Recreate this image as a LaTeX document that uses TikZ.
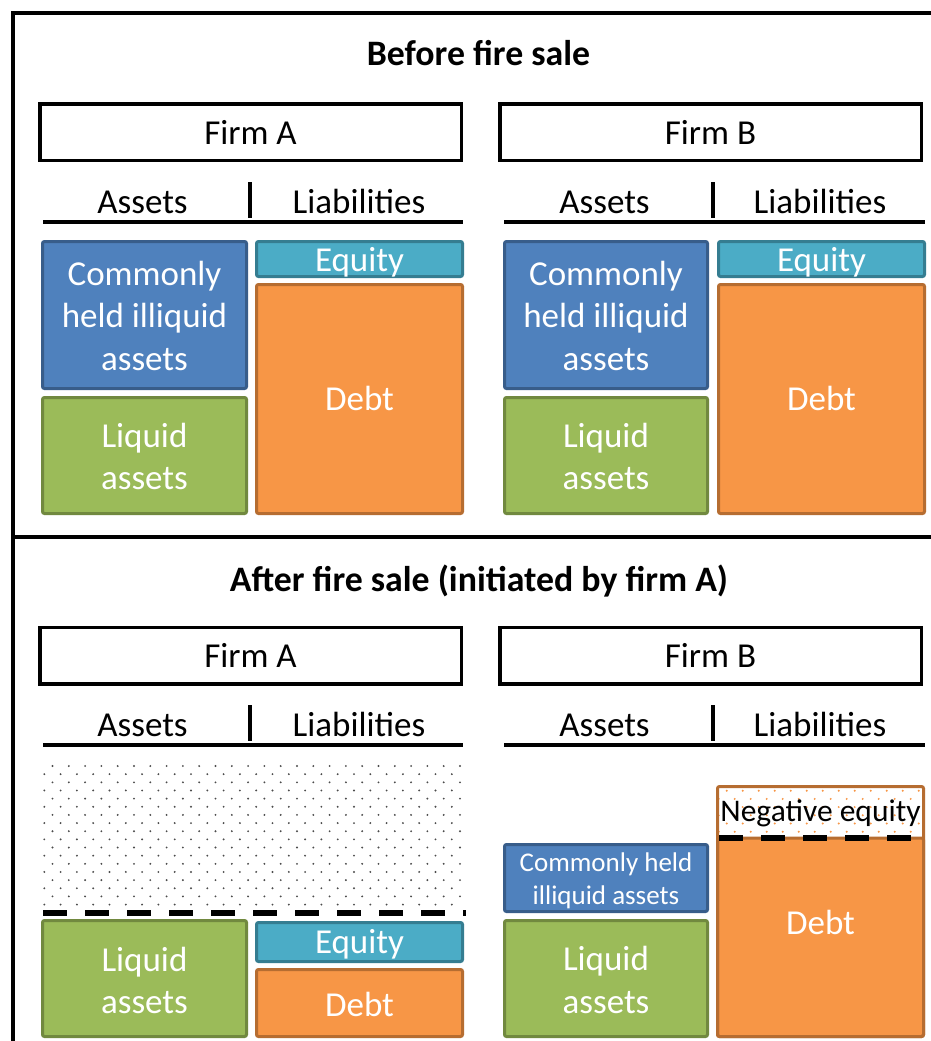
\documentclass[tikz,border=0pt]{standalone}
\usepackage{fontspec}
\setmainfont{Carlito}
\definecolor{illfill}{HTML}{4F81BD}
\definecolor{illdraw}{HTML}{385D8A}
\definecolor{liqfill}{HTML}{9BBB59}
\definecolor{liqdraw}{HTML}{71893F}
\definecolor{eqfill}{HTML}{4BACC6}
\definecolor{eqdraw}{HTML}{357D91}
\definecolor{dbtfill}{HTML}{F79646}
\definecolor{dbtdraw}{HTML}{B66D31}
\newcommand\fBig{\fontsize{35}{42.5}\selectfont}
\newcommand\fTtl{\fontsize{35.8}{43}\selectfont}
\newcommand\fSml{\fontsize{27}{33}\selectfont}
\newcommand\fNeg{\fontsize{31.5}{38}\selectfont}
\tikzset{
  frm/.style={draw=black, line width=3.5pt, fill=white, minimum width=421.5pt, minimum height=56.5pt, inner sep=0pt, outer sep=0pt, font=\fBig},
  blk/.style={line width=3pt, rounded corners=2pt, inner sep=0pt, outer sep=0pt},
  ill/.style={blk, fill=illfill, draw=illdraw},
  liq/.style={blk, fill=liqfill, draw=liqdraw},
  eqb/.style={blk, fill=eqfill, draw=eqdraw},
  dbt/.style={blk, fill=dbtfill, draw=dbtdraw},
  wtxt/.style={text=white, inner sep=0pt, align=center, font=\fBig},
  wbase/.style={wtxt, anchor=base},
  hdr/.style={anchor=base, inner sep=0pt, font=\fBig},
  ttl/.style={anchor=base, inner sep=0pt, font=\fTtl\bfseries},
  rulex/.style={line width=3.5pt},
  frame/.style={line width=4pt},
  dashline/.style={line width=6pt, dash pattern=on 24pt off 18pt},
  dotk/.style={fill=black!70},
  doto/.style={fill=dbtfill}
}
\begin{document}
\begin{tikzpicture}[x=1pt,y=-1pt]
\useasboundingbox (0,0) rectangle (931,1041);
\clip (0,0) rectangle (931,1041);
\fill[white] (0,0) rectangle (931,1041);
% outer frame and divider
\draw[frame] (13,1060) -- (13,13) -- (950,13);
\draw[frame] (13,537) -- (950,537);

% ===== Before fire sale =====
\node[ttl] (t1) at (478.5,66) {Before fire sale};
\node[frm] (fa1) at (250.5,132) {Firm A};
\node[frm] (fb1) at (710.5,132) {Firm B};
\node[hdr] (asA1) at (142.5,213) {Assets};
\node[hdr] (liA1) at (359,213) {Liabilities};
\node[hdr] (asB1) at (604.5,213) {Assets};
\node[hdr] (liB1) at (820,213) {Liabilities};
\draw[rulex] (43,222) -- (463,222);
\draw[rulex] (250,182) -- (250,218);
\draw[rulex] (504,222) -- (925,222);
\draw[rulex] (713,182) -- (713,218);

% firm A
\node[ill, minimum width=204pt, minimum height=147pt] (ciA1) at (144.5,315) {};
\node[liq, minimum width=204pt, minimum height=116pt] (lqA1) at (144.5,455.5) {};
\node[eqb, minimum width=206pt, minimum height=35pt] (eqA1) at (359.5,259) {};
\node[dbt, minimum width=206pt, minimum height=229pt] (dbA1) at (359.5,399) {};
\node[wtxt] (ciA1t) at (144.5,315.5) {Commonly\\held illiquid\\assets};
\node[wtxt] (lqA1t) at (144.5,456.3) {Liquid\\assets};
\node[wbase] (eqA1t) at (359.5,271) {Equity};
\node[wbase] (dbA1t) at (359.5,410) {Debt};
% firm B
\node[ill, minimum width=203pt, minimum height=147pt] (ciB1) at (606,315) {};
\node[liq, minimum width=203pt, minimum height=116pt] (lqB1) at (606,455.5) {};
\node[eqb, minimum width=206pt, minimum height=35pt] (eqB1) at (821.5,259) {};
\node[dbt, minimum width=206pt, minimum height=229pt] (dbB1) at (821.5,399) {};
\node[wtxt] (ciB1t) at (606,315.5) {Commonly\\held illiquid\\assets};
\node[wtxt] (lqB1t) at (606,456.3) {Liquid\\assets};
\node[wbase] (eqB1t) at (821.5,271) {Equity};
\node[wbase] (dbB1t) at (821.5,410) {Debt};

% ===== After fire sale =====
\node[ttl] (t2) at (479,591) {After fire sale (initiated by firm A)};
\node[frm] (fa2) at (250.5,655.5) {Firm A};
\node[frm] (fb2) at (710.5,655.5) {Firm B};
\node[hdr] (asA2) at (142.5,736) {Assets};
\node[hdr] (liA2) at (359,736) {Liabilities};
\node[hdr] (asB2) at (604.5,736) {Assets};
\node[hdr] (liB2) at (820,736) {Liabilities};
\draw[rulex] (43,745) -- (463,745);
\draw[rulex] (250,705) -- (250,741);
\draw[rulex] (504,745) -- (925,745);
\draw[rulex] (713,705) -- (713,741);

% firm A: sold-off region
\foreach \r in {0,...,17}{
  \foreach \c in {0,...,25}{
    \fill[dotk] ({52.5-8.2*mod(\r,2)+16.3*\c},{766+8.15*\r}) circle (1.05pt);
  }
}
\draw[dashline] (43,913) -- (466,913);
\node[liq, minimum width=204pt, minimum height=116pt] (lqA2) at (144.5,978.5) {};
\node[eqb, minimum width=206pt, minimum height=39pt] (eqA2) at (359.5,942) {};
\node[dbt, minimum width=206pt, minimum height=67pt] (dbA2) at (359.5,1003) {};
\node[wtxt] (lqA2t) at (144.5,980.3) {Liquid\\assets};
\node[wbase] (eqA2t) at (359.5,953.5) {Equity};
\node[wbase] (dbA2t) at (359.5,1016) {Debt};

% firm B
\node[ill, minimum width=203pt, minimum height=67pt] (ciB2) at (606,878) {};
\node[liq, minimum width=203pt, minimum height=116pt] (lqB2) at (606,978.5) {};
\node[wtxt, font=\fSml] (ciB2t) at (606,880.5) {Commonly held\\illiquid assets};
\node[wtxt] (lqB2t) at (606,979.8) {Liquid\\assets};
\node[fill=white, inner sep=0pt, outer sep=0pt, minimum width=206pt, minimum height=51.5pt] (neB2) at (820.5,812.25) {};
\foreach \r in {0,...,5}{
  \foreach \c in {0,...,12}{
    \fill[doto] ({726.7-8*mod(\r,2)+16*\c},{790.7+8.2*\r}) circle (1.1pt);
  }
}
\node[dbt, minimum width=206pt, minimum height=198.5pt] (dbB2) at (820.5,937.25) {};
\draw[line width=3pt, draw=dbtdraw, rounded corners=2pt] (neB2.north west) rectangle (dbB2.south east);
\draw[dashline] (719,838) -- (922,838);
\node[anchor=base, inner sep=0pt, font=\fNeg] (neB2t) at (820.5,821) {Negative equity};
\node[wbase] (dbB2t) at (820.5,934.5) {Debt};
\end{tikzpicture}
\end{document}
